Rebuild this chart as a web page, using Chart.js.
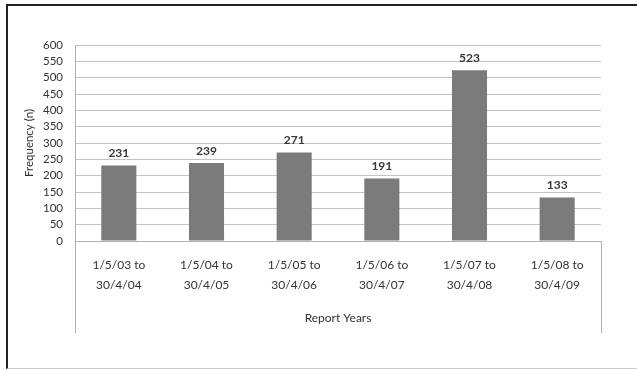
<!DOCTYPE html>
<html>
<head>
<meta charset="utf-8">
<script src="https://cdn.jsdelivr.net/npm/chart.js@4/dist/chart.umd.min.js"></script>
<style>
html,body{margin:0;padding:0;background:#fff;}
#wrap{position:relative;width:637px;height:370px;}
#frame{position:absolute;left:6px;top:4px;width:631px;height:365px;border-left:2px solid #222;border-top:2px solid #222;border-bottom:1px solid #ccc;box-sizing:border-box;pointer-events:none;}
canvas{position:absolute;left:0;top:0;}
</style>
</head>
<body>
<div id="wrap"><canvas id="c" width="637" height="370"></canvas><div id="frame"></div></div>
<script>
const categories = [
  ["1/5/03 to","30/4/04"],
  ["1/5/04 to","30/4/05"],
  ["1/5/05 to","30/4/06"],
  ["1/5/06 to","30/4/07"],
  ["1/5/07 to","30/4/08"],
  ["1/5/08 to","30/4/09"]
];
const frequency = [231, 239, 271, 191, 523, 133];
const yTicks = [0,50,100,150,200,250,300,350,400,450,500,550,600];

const FONT = "Lato, 'Open Sans', sans-serif";

const valueLabels = {
  id: 'valueLabels',
  afterDatasetsDraw(chart) {
    const ctx = chart.ctx;
    const meta = chart.getDatasetMeta(0);
    ctx.save();
    ctx.font = "bold 12px " + FONT;
    ctx.fillStyle = "#383838";
    ctx.textAlign = "center";
    ctx.textBaseline = "bottom";
    meta.data.forEach((el, i) => {
      ctx.fillText(String(frequency[i]), el.x, el.y - 6);
    });
    ctx.restore();
  }
};

const axisBox = {
  id: 'axisBox',
  afterDraw(chart) {
    const ctx = chart.ctx;
    const a = chart.chartArea;
    const xs = chart.scales.x;
    ctx.save();
    ctx.strokeStyle = "#b0b0b0";
    ctx.lineWidth = 1;
    ctx.beginPath();
    ctx.moveTo(Math.round(a.left) + 0.5, a.top);
    ctx.lineTo(Math.round(a.left) + 0.5, xs.bottom);
    ctx.moveTo(Math.round(a.right) + 0.5, a.bottom);
    ctx.lineTo(Math.round(a.right) + 0.5, xs.bottom);
    ctx.stroke();
    ctx.restore();
  }
};

new Chart(document.getElementById('c'), {
  type: 'bar',
  data: {
    labels: categories,
    datasets: [{
      data: frequency,
      backgroundColor: '#7b7b7b',
      borderWidth: 0,
      barPercentage: 0.4,
      categoryPercentage: 1.0
    }]
  },
  options: {
    responsive: false,
    animation: false,
    devicePixelRatio: 1,
    layout: { padding: { left: 22, right: 36, top: 45, bottom: 37 } },
    plugins: { legend: { display: false }, tooltip: { enabled: false } },
    scales: {
      x: {
        afterFit(s) { s.height = 92; },
        grid: { display: false, drawTicks: false },
        border: { display: true, color: '#b0b0b0' },
        ticks: { color: '#333', font: { family: FONT, size: 12, lineHeight: 1.65 }, padding: 14, maxRotation: 0, autoSkip: false },
        title: { display: true, text: 'Report Years', color: '#333', font: { family: FONT, size: 12 }, padding: { top: 4, bottom: 8 } }
      },
      y: {
        min: 0, max: 600,
        afterFit(s) { s.width = 53; },
        afterBuildTicks(s) { s.ticks = yTicks.map(v => ({ value: v })); },
        grid: { color: '#c4c4c4', lineWidth: 1, drawTicks: false },
        border: { display: false },
        ticks: { color: '#333', font: { family: FONT, size: 11.5 }, padding: 12, autoSkip: false },
        title: { display: true, text: 'Frequency (n)', color: '#333', font: { family: FONT, size: 11.5 }, padding: { top: 0, bottom: 4 } }
      }
    }
  },
  plugins: [valueLabels, axisBox]
});
</script>
</body>
</html>
